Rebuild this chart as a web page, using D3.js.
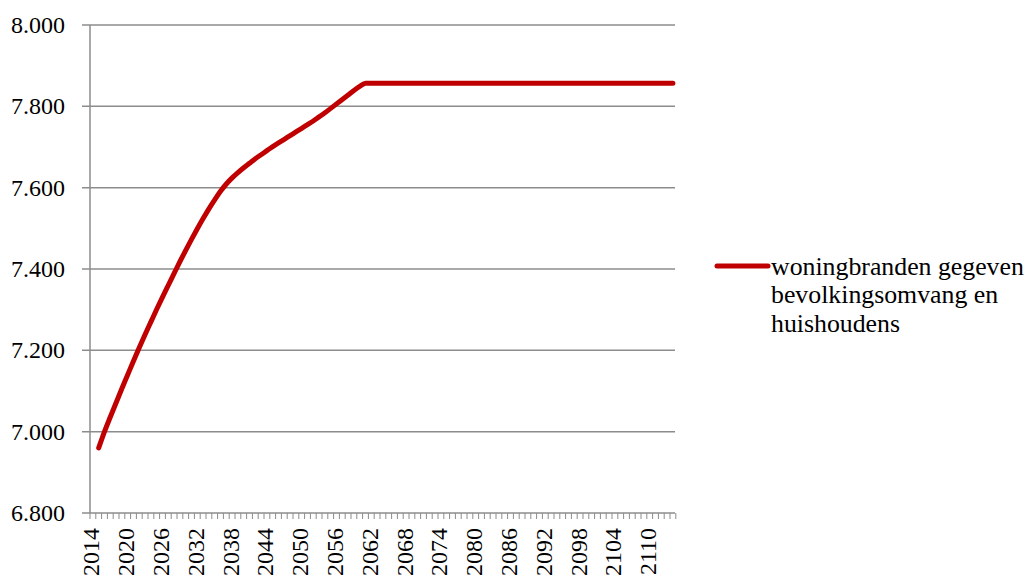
<!DOCTYPE html>
<html>
  <head>
    <meta charset="utf-8">
    <script src="https://d3js.org/d3.v7.min.js"></script>
  </head>
<body>
  <script type="text/javascript">
    // years 2014..2114, value missing for 2014
    var years = d3.range(2014, 2115);
    var curve = [null,
      6.960, 7.000, 7.036, 7.071, 7.106, 7.140, 7.174, 7.207, 7.239, 7.270,
      7.301, 7.331, 7.360, 7.389, 7.418, 7.446, 7.473, 7.499, 7.524, 7.548,
      7.570, 7.591, 7.609, 7.624, 7.637, 7.649, 7.660, 7.671, 7.681, 7.691,
      7.701, 7.710, 7.719, 7.728, 7.737, 7.746, 7.755, 7.764, 7.774, 7.784,
      7.795, 7.806, 7.817, 7.828, 7.839, 7.849, 7.857];
    while (curve.length < years.length) curve.push(7.857);
    var yTicks = [6.8, 7.0, 7.2, 7.4, 7.6, 7.8, 8.0];
    var seriesName = ["woningbranden gegeven", "bevolkingsomvang en", "huishoudens"];

    var data = years.map(function(y, i) { return {year: y, value: curve[i]}; });

    var plotLeft = 90, plotRight = 675.8, plotTop = 25, plotBottom = 513;
    var fmt = d3.format(".3f");
    var fontName = "\"Liberation Serif\"";

    d3.select("body").style("margin", "0px");

    var svg = d3.select("body").append("svg")
        .attr("width", 1027)
        .attr("height", 579)
        .style("display", "block");

    var x = d3.scaleBand().domain(years).range([plotLeft, plotRight]).padding(0);
    var y = d3.scaleLinear().domain([6.8, 8.0]).range([plotBottom, plotTop]);

    /*
      gridlines + y labels
    */
    svg.selectAll("line.grid")
        .data(yTicks)
      .enter().append("line")
        .attr("class", "grid")
        .attr("x1", plotLeft - 8)
        .attr("x2", 675)
        .attr("y1", function(d) { return y(d); })
        .attr("y2", function(d) { return y(d); })
        .attr("stroke", "#8c8c8c")
        .attr("stroke-width", 1.5);

    svg.selectAll("text.ylab")
        .data(yTicks)
      .enter().append("text")
        .attr("class", "ylab")
        .attr("x", 65)
        .attr("y", function(d) { return y(d); })
        .attr("dy", "0.34em")
        .attr("text-anchor", "end")
        .style("font-family", fontName)
        .style("font-size", "24px")
        .text(function(d) { return fmt(d); });

    svg.append("line")
        .attr("x1", plotLeft).attr("x2", plotLeft)
        .attr("y1", plotTop).attr("y2", plotBottom)
        .attr("stroke", "#8c8c8c")
        .attr("stroke-width", 1.5);

    /*
      x axis: tick between every category, label every 6 years
    */
    svg.selectAll("line.xtick")
        .data(years.concat([2115]))
      .enter().append("line")
        .attr("class", "xtick")
        .attr("x1", function(d) { return d === 2115 ? plotRight : x(d); })
        .attr("x2", function(d) { return d === 2115 ? plotRight : x(d); })
        .attr("y1", plotBottom)
        .attr("y2", plotBottom + 6)
        .attr("stroke", "#8c8c8c")
        .attr("stroke-width", 1);

    svg.selectAll("text.xlab")
        .data(years.filter(function(d) { return (d - 2014) % 6 === 0; }))
      .enter().append("text")
        .attr("class", "xlab")
        .attr("transform", function(d) {
          return "translate(" + (x(d) + x.bandwidth() / 2) + "," + (plotBottom + 15) + ") rotate(-90)";
        })
        .attr("dy", "0.27em")
        .attr("text-anchor", "end")
        .style("font-family", fontName)
        .style("font-size", "24px")
        .text(function(d) { return d; });

    /*
      the series line
    */
    var line = d3.line()
        .defined(function(d) { return d.value !== null; })
        .x(function(d) { return x(d.year) + x.bandwidth() / 2; })
        .y(function(d) { return y(d.value); })
        .curve(d3.curveMonotoneX);

    svg.append("path")
        .datum(data)
        .attr("d", line)
        .attr("fill", "none")
        .attr("stroke", "#c00000")
        .attr("stroke-width", 5)
        .attr("stroke-linecap", "round")
        .attr("stroke-linejoin", "round");

    /*
      legend
    */
    svg.append("line")
        .attr("x1", 717).attr("x2", 768)
        .attr("y1", 266).attr("y2", 266)
        .attr("stroke", "#c00000")
        .attr("stroke-width", 5)
        .attr("stroke-linecap", "round");

    svg.selectAll("text.leg")
        .data(seriesName)
      .enter().append("text")
        .attr("class", "leg")
        .attr("x", 771)
        .attr("y", function(d, i) { return 275 + i * 28.3; })
        .style("font-family", fontName)
        .style("font-size", "25.8px")
        .text(function(d) { return d; });
  </script>
</body>
</html>
